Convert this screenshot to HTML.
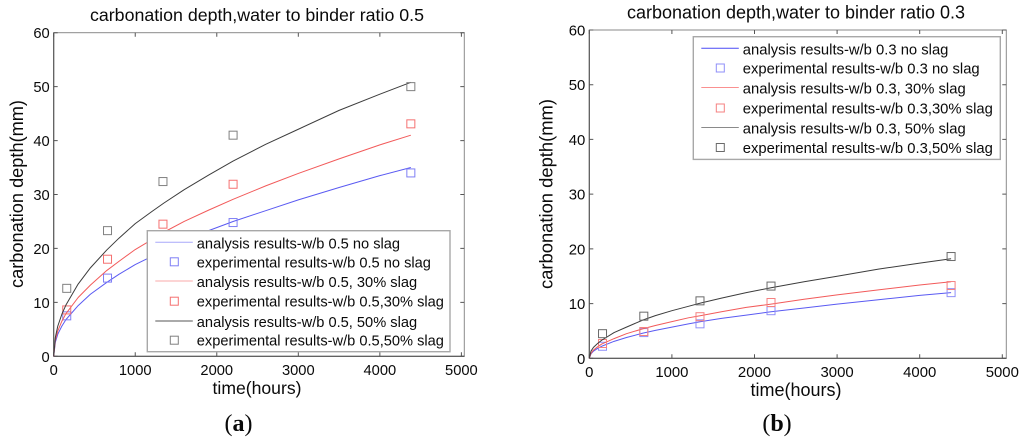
<!DOCTYPE html>
<html lang="en">
<head>
<meta charset="utf-8">
<title>Carbonation depth charts</title>
<style>
html,body{margin:0;padding:0;background:#fff;width:1024px;height:439px;overflow:hidden}
svg{display:block;filter:blur(0.3px)}
text{font-family:"Liberation Sans",sans-serif;fill:#0a0a0a}
.cap{font-family:"Liberation Serif",serif;font-size:24px}
</style>
</head>
<body>
<svg id="root" width="1024" height="439" viewBox="0 0 1024 439" xmlns="http://www.w3.org/2000/svg">
  <rect width="1024" height="439" fill="#fff"/>
  <text x="257" y="21" font-size="17.8" text-anchor="middle" textLength="334">carbonation depth,water to binder ratio 0.5</text>
  <text x="796" y="18.500" font-size="18" text-anchor="middle" textLength="338">carbonation depth,water to binder ratio 0.3</text>
  <text x="257" y="394" font-size="17.6" text-anchor="middle">time(hours)</text>
  <text x="796" y="396" font-size="18" text-anchor="middle">time(hours)</text>
  <text transform="translate(23,194) rotate(-90)" font-size="18.2" text-anchor="middle" textLength="188">carbonation depth(mm)</text>
  <text transform="translate(552.5,194) rotate(-90)" font-size="18.4" text-anchor="middle" textLength="190">carbonation depth(mm)</text>
  <text class="cap" x="238.500" y="431" text-anchor="middle">(<tspan font-weight="bold">a</tspan>)</text>
  <text class="cap" x="777" y="431" text-anchor="middle">(<tspan font-weight="bold">b</tspan>)</text>
</svg>
<script>
const xTicks = [0, 1000, 2000, 3000, 4000, 5000];
const yTicks = [0, 10, 20, 30, 40, 50, 60];

const curveTimes = [0, 20, 50, 100, 150, 300, 450, 650, 800, 1000, 1200, 1350, 1600, 1900, 2200, 2600, 3000, 3500, 4000, 4380];
const a50Curve = [0, 3.5, 5.6, 7.8, 9.5, 13.4, 16.4, 19.7, 21.9, 24.6, 26.8, 28.4, 30.9, 33.6, 36.2, 39.3, 42.1, 45.6, 48.6, 50.8];
const a30Curve = [0, 3, 4.7, 6.5, 7.9, 10.9, 13.2, 15.9, 17.6, 19.8, 21.6, 23, 25, 27.1, 29.1, 31.6, 33.9, 36.6, 39.2, 41];
const a0Curve = [0, 2.6, 4.1, 5.6, 6.8, 9.4, 11.5, 13.7, 15.2, 17, 18.5, 19.7, 21.4, 23.3, 25, 27, 29, 31.3, 33.5, 35];
const b50Curve = [0, 1.3, 2, 2.7, 3.3, 4.7, 5.7, 7, 7.8, 8.7, 9.5, 10.1, 11, 12, 12.9, 14, 15, 16.3, 17.4, 18.2];
const b30Curve = [0, 0.9, 1.5, 2.1, 2.6, 3.6, 4.5, 5.4, 6, 6.7, 7.4, 7.8, 8.5, 9.3, 9.9, 10.8, 11.6, 12.5, 13.4, 14];
const b0Curve = [0, 0.8, 1.3, 1.8, 2.2, 3.1, 3.8, 4.6, 5.1, 5.7, 6.3, 6.7, 7.3, 7.9, 8.5, 9.2, 9.9, 10.7, 11.5, 12];

const sampleTimes = [160, 660, 1340, 2200, 4380];
const a50Samples = [12.6, 23.3, 32.4, 41, 50];
const a30Samples = [8.6, 18, 24.5, 31.9, 43.1];
const a0Samples = [7.5, 14.5, 20.2, 24.8, 34];
const b50Samples = [4.5, 7.7, 10.5, 13.2, 18.6];
const b30Samples = [2.7, 4.9, 7.6, 10.2, 13.3];
const b0Samples = [2.2, 4.7, 6.3, 8.7, 12];

const aLegendLabels = ["analysis results-w/b 0.5 no slag", "experimental results-w/b 0.5 no slag", "analysis results-w/b 0.5, 30% slag", "experimental results-w/b 0.5,30% slag", "analysis results-w/b 0.5, 50% slag", "experimental results-w/b 0.5,50% slag"];
const bLegendLabels = ["analysis results-w/b 0.3 no slag", "experimental results-w/b 0.3 no slag", "analysis results-w/b 0.3, 30% slag", "experimental results-w/b 0.3,30% slag", "analysis results-w/b 0.3, 50% slag", "experimental results-w/b 0.3,50% slag"];

const NS = "http://www.w3.org/2000/svg";
const root = document.getElementById("root");

function make(tag, attrs, parent) {
  const el = document.createElementNS(NS, tag);
  for (const k in attrs) el.setAttribute(k, attrs[k]);
  parent.appendChild(el);
  return el;
}

function drawChart(cfg) {
  const g = make("g", {}, root);
  
  
  const xScale = v => cfg.x0 + v * (cfg.x5000 - cfg.x0) / 5000;
  const yScale = v => cfg.y0 + v * (cfg.y60 - cfg.y0) / 60;
  const axisColor = "#555";

  const frame = make("rect", {x: cfg.x0, y: cfg.y60, width: cfg.right - cfg.x0, height: cfg.y0 - cfg.y60, fill: "none", stroke: "#8a8a8a", "stroke-width": 1}, g);
  
  
  const xAxis = make("line", {x1: cfg.x0, x2: cfg.right, y1: cfg.y0, y2: cfg.y0, stroke: axisColor, "stroke-width": 1.1}, g);
  
  
  const yAxis = make("line", {x1: cfg.x0, x2: cfg.x0, y1: cfg.y0, y2: cfg.y60, stroke: axisColor, "stroke-width": 1.1}, g);
  
  

  xTicks.forEach(t => {
    const px = xScale(t);
    const tickPath = make("path", {d: `M${px} ${cfg.y0}v-4M${px} ${cfg.y60}v4`, stroke: axisColor, fill: "none", "stroke-width": 1}, g);
    
    
    const label = make("text", {x: px, y: cfg.y0 + 18.5, "font-size": cfg.tickSize, "text-anchor": "middle"}, g);
    label.textContent = t;
    
    
  });
  yTicks.forEach(t => {
    const py = yScale(t);
    const tickPath = make("path", {d: `M${cfg.x0} ${py}h4M${cfg.right} ${py}h-4`, stroke: axisColor, fill: "none", "stroke-width": 1}, g);
    
    
    const label = make("text", {x: cfg.x0 - 4, y: py + 5.5, "font-size": cfg.tickSize, "text-anchor": "end"}, g);
    label.textContent = t;
    
    
  });

  cfg.series.forEach(s => {
    const d = curveTimes.map((t, i) => (i ? "L" : "M") + xScale(t).toFixed(2) + " " + yScale(s.curve[i]).toFixed(2)).join("");
    const line = make("path", {d: d, fill: "none", stroke: s.color, "stroke-width": 1, "stroke-linejoin": "round"}, g);
    
    
    sampleTimes.forEach((t, i) => {
      const m = make("rect", {x: xScale(t) - 4, y: yScale(s.samples[i]) - 4, width: 8, height: 8, fill: "none", stroke: s.marker, "stroke-width": 1}, g);
      
      
    });
  });

  const L = cfg.legend;
  const box = make("rect", {x: L.x, y: L.y, width: L.w, height: L.h, fill: "#fff", stroke: "#a8a8a8", "stroke-width": 1.4}, g);
  
  
  L.labels.forEach((txt, i) => {
    const s = cfg.series[Math.floor(i / 2)];
    const cy = L.rows[i];
    if (i % 2 === 0) {
      const key = make("line", {x1: L.x + 8, x2: L.x + 45.500, y1: cy - 1, y2: cy - 1, stroke: s.keyColor, "stroke-width": 1}, g);
      
      
    } else {
      const key = make("rect", {x: L.x + 23, y: cy - 4.5, width: 8, height: 8, fill: "none", stroke: s.marker, "stroke-width": 1}, g);
      
      
    }
    const label = make("text", {x: L.x + 49.500, y: cy + 5, "font-size": L.size}, g);
    label.textContent = txt;
    
    
  });
}

drawChart({
  x0: 53.7, x5000: 461.4, right: 464.3, y0: 356.3, y60: 32.7, tickSize: 14.7,
  series: [
    {curve: a0Curve, samples: a0Samples, color: "#5a5af2", marker: "#7f7ff5", keyColor: "#a8a8fa"},
    {curve: a30Curve, samples: a30Samples, color: "#f25a5a", marker: "#f57070", keyColor: "#faa8a8"},
    {curve: a50Curve, samples: a50Samples, color: "#3c3c3c", marker: "#808080", keyColor: "#555"}
  ],
  legend: {x: 147.3, y: 230.7, w: 302.7, h: 121, size: 14.63, labels: aLegendLabels, rows: [243.3, 262.3, 282, 301.7, 322, 340.7]}
});

drawChart({
  x0: 589.3, x5000: 1002.3, right: 1006.3, y0: 358.3, y60: 30, tickSize: 14.9,
  series: [
    {curve: b0Curve, samples: b0Samples, color: "#5a5af2", marker: "#8f8ff8", keyColor: "#4a4af5"},
    {curve: b30Curve, samples: b30Samples, color: "#f25a5a", marker: "#f58080", keyColor: "#fa9090"},
    {curve: b50Curve, samples: b50Samples, color: "#3c3c3c", marker: "#6a6a6a", keyColor: "#8a8a8a"}
  ],
  legend: {x: 693.3, y: 36.7, w: 307, h: 122.7, size: 14.8, labels: bLegendLabels, rows: [49.3, 68.5, 88.5, 108.5, 128.5, 148]}
});
</script>
</body>
</html>
